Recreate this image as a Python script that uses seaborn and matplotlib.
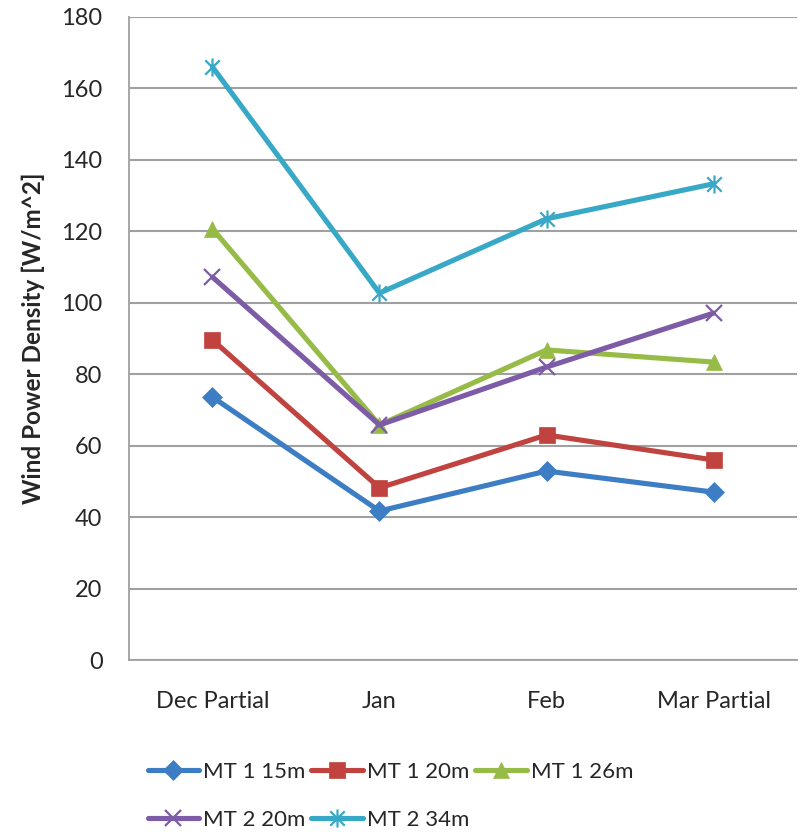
import matplotlib
matplotlib.use("Agg")
import matplotlib.pyplot as plt
from matplotlib.path import Path
import seaborn as sns
import pandas as pd

months = ["Dec Partial", "Jan", "Feb", "Mar Partial"]
series_names = ["MT 1 15m", "MT 1 20m", "MT 1 26m", "MT 2 20m", "MT 2 34m"]
mt1_15m = [73.6, 41.7, 52.9, 47.0]
mt1_20m = [89.6, 48.2, 63.0, 56.0]
mt1_26m = [120.7, 65.8, 86.8, 83.4]
mt2_20m = [107.2, 65.8, 82.0, 97.1]
mt2_34m = [166.0, 102.7, 123.5, 133.3]
y_ticks = [0, 20, 40, 60, 80, 100, 120, 140, 160, 180]

colors = ["#3C7DC4", "#C0433F", "#97BB47", "#7D5BA6", "#37A8C6"]

# star marker: an "x" crossed by a vertical stroke
star = Path(
    [(-1, -1), (1, 1), (-1, 1), (1, -1), (0, -1.25), (0, 1.25)],
    [Path.MOVETO, Path.LINETO, Path.MOVETO, Path.LINETO, Path.MOVETO, Path.LINETO],
)
markers = ["D", "s", "^", "x", star]
marker_sizes = [10, 12, 12, 12, 13]
open_markers = [False, False, False, True, True]

values = [mt1_15m, mt1_20m, mt1_26m, mt2_20m, mt2_34m]

sns.set_style("white")
plt.rcParams["font.family"] = ["Lato", "DejaVu Sans"]

fig = plt.figure(figsize=(8.02, 8.32), dpi=100)
ax = fig.add_axes([0.1608, 0.2067, 0.8330, 0.7729])

handles = []
for name, vals, c, mk, ms, is_open in zip(series_names, values, colors, markers,
                                          marker_sizes, open_markers):
    df = pd.DataFrame({"month": months, "value": vals})
    n_before = len(ax.lines)
    sns.lineplot(data=df, x="month", y="value", color=c, marker=mk,
                 linewidth=3.7, sort=False, ax=ax, label=name)
    line = ax.lines[n_before]
    line.set_markersize(ms)
    line.set_markeredgecolor(c)
    line.set_markerfacecolor(c)
    line.set_markeredgewidth(1.6 if is_open else 0.5)
    handles.append(line)

if ax.get_legend() is not None:
    ax.get_legend().remove()

ax.set_xlim(-0.5, 3.5)
ax.set_ylim(0, 180)
ax.set_yticks(y_ticks)
ax.set_yticklabels([str(t) for t in y_ticks], fontsize=17)
ax.set_xticks(range(len(months)))
ax.set_xticklabels(months, fontsize=17)
ax.set_xticks([-0.5, 0.5, 1.5, 2.5, 3.5], minor=True)
ax.tick_params(axis="x", which="major", length=0, pad=22)
ax.tick_params(axis="x", which="minor", length=7, width=1.3, color="#a0a0a0", direction="out")
ax.tick_params(axis="y", length=7, width=1.3, color="#a0a0a0", direction="out", pad=12)
ax.yaxis.grid(True, color="#a0a0a0", linewidth=1.5)
ax.set_axisbelow(True)
for side in ("top", "right"):
    ax.spines[side].set_visible(False)
for side in ("left", "bottom"):
    ax.spines[side].set_color("#a0a0a0")
    ax.spines[side].set_linewidth(1.3)

ax.set_xlabel("")
ax.set_ylabel("Wind Power Density [W/m^2]", fontsize=17.5, fontweight="bold", labelpad=12)

# legend in row-major order: 3 entries on first row, 2 on second
order = [0, 3, 1, 4, 2]
fig.legend(
    [handles[i] for i in order], [series_names[i] for i in order],
    ncol=3, loc="upper left", bbox_to_anchor=(0.184, 0.084),
    bbox_transform=fig.transFigure, frameon=False, fontsize=16,
    handlelength=2.3, handletextpad=0.2, columnspacing=0.27, labelspacing=1.25,
    borderaxespad=0, borderpad=0,
)

fig.savefig("out.png", dpi=100)
